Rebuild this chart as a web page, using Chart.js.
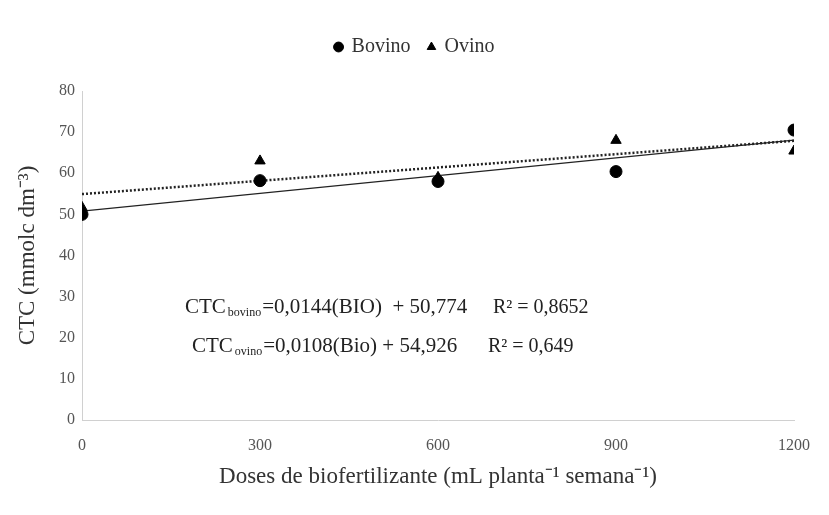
<!DOCTYPE html>
<html>
<head>
<meta charset="utf-8">
<script src="https://cdn.jsdelivr.net/npm/chart.js@4"></script>
<style>
  html, body { margin: 0; padding: 0; background: #fff; }
  #wrap { width: 829px; height: 515px; }
</style>
</head>
<body>
<div id="wrap"><canvas id="chart" width="829" height="515"></canvas></div>
<script>
// doses (mL planta-1 semana-1)
const doses = [0, 300, 600, 900, 1200];
const bovino = [50.0, 58.2, 58.0, 60.4, 70.5];
const ovino = [51.7, 63.0, 59.0, 68.0, 65.4];

// regression coefficients [slope, intercept]
const fitBovino = [0.0144, 50.774];
const fitOvino = [0.0108, 54.926];

const xTicks = [0, 300, 600, 900, 1200];
const yTicks = [0, 10, 20, 30, 40, 50, 60, 70, 80];

const serif = '"Liberation Serif", "Times New Roman", serif';

function toPoints(xs, ys) {
    return xs.map((x, i) => ({ x: x, y: ys[i] }));
}
function fitLine(coef) {
    const xMin = doses[0], xMax = doses[doses.length - 1];
    return [{ x: xMin, y: coef[0] * xMin + coef[1] }, { x: xMax, y: coef[0] * xMax + coef[1] }];
}

// extra room under the legend, and legend moved a bit to the right
const legendFix = {
    id: 'legendFix',
    beforeInit(chart) {
        const fit = chart.legend.fit;
        chart.legend.fit = function () {
            fit.call(this);
            this.height += 24;
        };
    },
    afterLayout(chart) {
        chart.legend.left += 18;
        chart.legend.right += 18;
    }
};

// equations drawn in the plot area
const equationPlugin = {
    id: 'equations',
    afterDraw(chart) {
        const ctx = chart.ctx;
        const lines = [
            { x: 185, y: 313, sub: 'bovino', rest: '=0,0144(BIO)  + 50,774', r2: 'R² = 0,8652', r2x: 493 },
            { x: 192, y: 352, sub: 'ovino', rest: '=0,0108(Bio) + 54,926', r2: 'R² = 0,649', r2x: 488 }
        ];
        ctx.save();
        ctx.fillStyle = '#222';
        ctx.textBaseline = 'alphabetic';
        lines.forEach(l => {
            ctx.font = '21px ' + serif;
            ctx.fillText('CTC', l.x, l.y);
            let w = ctx.measureText('CTC').width + 2;
            ctx.font = '12px ' + serif;
            ctx.fillText(l.sub, l.x + w, l.y + 3);
            w += ctx.measureText(l.sub).width + 1;
            ctx.font = '21px ' + serif;
            ctx.fillText(l.rest, l.x + w, l.y);
            ctx.font = '20px ' + serif;
            ctx.fillText(l.r2, l.r2x, l.y);
        });
        ctx.restore();
    }
};

new Chart(document.getElementById('chart'), {
    type: 'scatter',
    data: {
        datasets: [
            {
                label: 'Bovino',
                data: toPoints(doses, bovino),
                pointStyle: 'circle',
                pointRadius: 6,
                backgroundColor: '#000',
                borderColor: '#000',
                order: 1
            },
            {
                label: 'Ovino',
                data: toPoints(doses, ovino),
                pointStyle: 'triangle',
                pointRadius: 6,
                backgroundColor: '#000',
                borderColor: '#000',
                order: 1
            },
            {
                label: 'trend-bovino',
                type: 'line',
                data: fitLine(fitBovino),
                borderColor: '#222',
                borderWidth: 1.2,
                pointRadius: 0,
                fill: false,
                order: 2
            },
            {
                label: 'trend-ovino',
                type: 'line',
                data: fitLine(fitOvino),
                borderColor: '#222',
                borderWidth: 2.5,
                borderDash: [2, 2],
                pointRadius: 0,
                fill: false,
                order: 2
            }
        ]
    },
    options: {
        responsive: false,
        animation: false,
        layout: { padding: { top: 19, right: 35, left: 0, bottom: 0 } },
        plugins: {
            legend: {
                position: 'top',
                labels: {
                    usePointStyle: true,
                    boxWidth: 6,
                    boxHeight: 7,
                    padding: 18,
                    color: '#333',
                    font: { family: serif, size: 20 },
                    filter: item => !item.text.startsWith('trend')
                }
            },
            tooltip: { enabled: false }
        },
        scales: {
            x: {
                type: 'linear',
                min: 0,
                max: 1200,
                afterBuildTicks: axis => { axis.ticks = xTicks.map(v => ({ value: v })); },
                afterFit: axis => { axis.height = 95; },
                grid: { display: false, drawTicks: false },
                border: { color: '#d0d0d0' },
                ticks: {
                    color: '#555', padding: 16, font: { family: serif, size: 16 },
                    callback: v => String(v)
                },
                title: {
                    display: true,
                    text: 'Doses de biofertilizante (mL planta⁻¹ semana⁻¹)',
                    color: '#333',
                    font: { family: serif, size: 23 },
                    padding: { bottom: 24 }
                }
            },
            y: {
                min: 0,
                max: 80,
                afterBuildTicks: axis => { axis.ticks = yTicks.map(v => ({ value: v })); },
                afterFit: axis => { axis.width = 82; },
                grid: { display: false, drawTicks: false },
                border: { color: '#d0d0d0' },
                ticks: { color: '#555', padding: 7, font: { family: serif, size: 16 } },
                title: {
                    display: true,
                    text: 'CTC (mmolc dm⁻³)',
                    color: '#333',
                    font: { family: serif, size: 23 },
                    padding: { top: 14 }
                }
            }
        }
    },
    plugins: [legendFix, equationPlugin]
});
</script>
</body>
</html>
